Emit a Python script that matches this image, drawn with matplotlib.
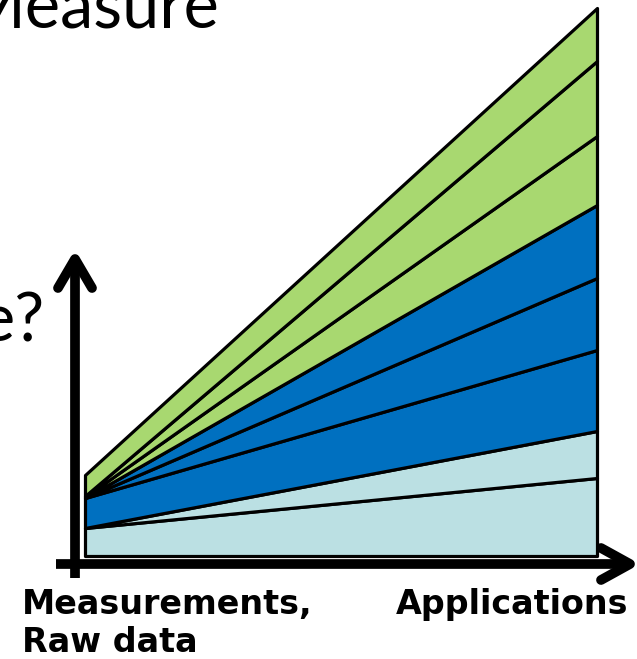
import numpy as np
import matplotlib.pyplot as plt

# Layer thicknesses (bottom to top) at the two ends of the axis
x = [0, 1]
layer_left = [28, 0, 30, 0, 0, 1, 1, 21]
layer_right = [78, 47, 81, 72, 73, 69, 75, 53]
layer_colors = ['#BBE0E3', '#BBE0E3', '#0070C0', '#0070C0', '#0070C0',
                '#A8D870', '#A8D870', '#A8D870']

x_label_left = ["Measurements,", "Raw data"]
x_label_right = "Applications"

W, H = 637, 659
fig = plt.figure(figsize=(W / 100, H / 100), dpi=100)

# overlay in pixel coordinates for the arrows and the slide text
ov = fig.add_axes([0, 0, 1, 1])
ov.set_xlim(0, W)
ov.set_ylim(H, 0)
ov.axis('off')

# stacked areas
ax = fig.add_axes([85 / W, (H - 556) / H, 512 / W, 548 / H])
layers = np.array([layer_left, layer_right]).T
polys = ax.stackplot(x, layers, colors=layer_colors, edgecolor='black',
                     linewidth=2.3)
for p in polys:
    p.set_clip_on(False)
ax.set_xlim(0, 1)
ax.set_ylim(0, 548)
ax.axis('off')

# axis arrows
arrow_kw = dict(color='black', lw=7, solid_capstyle='round',
                solid_joinstyle='round')
ov.plot([75, 75], [578, 262], color='black', lw=7, solid_capstyle='butt')
ov.plot([58, 75, 92], [288, 259, 288], **arrow_kw)
ov.plot([56, 628], [564, 564], color='black', lw=7, solid_capstyle='butt')
ov.plot([601, 630, 601], [548, 564, 580], **arrow_kw)

# axis end labels
lab_kw = dict(fontsize=24, fontweight='bold', family='DejaVu Sans',
              va='baseline')
ov.text(22, 614, x_label_left[0], ha='left', **lab_kw)
ov.text(22, 652, x_label_left[1], ha='left', **lab_kw)
ov.text(628, 614, x_label_right, ha='right', **lab_kw)

# cut-off slide text
ov.text(220, 28, "Measure", fontsize=48, family='Lato', fontweight='normal',
        ha='right', va='baseline')
ov.text(44, 342, "e?", fontsize=48, family='Lato', fontweight='normal',
        ha='right', va='baseline')

fig.savefig('out.png', dpi=100)
